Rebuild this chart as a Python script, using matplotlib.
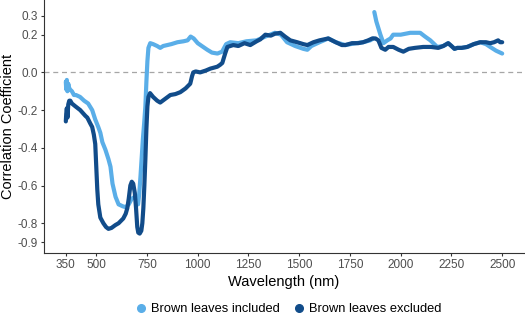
import numpy as np
import matplotlib
matplotlib.use("Agg")
import matplotlib.pyplot as plt
from matplotlib.lines import Line2D

plt.rcParams['font.family'] = ['Liberation Sans', 'DejaVu Sans']

# ---- data ----
wl_incl = [350, 352, 355, 358, 362, 366, 370, 380, 390, 400, 420, 440, 460, 480, 495,
           510, 520, 530, 545, 560, 570, 580, 595, 610, 630, 645, 660, 675, 690, 700,
           706, 712, 718, 724, 730, 736, 742, 747, 752, 757, 766, 780, 800, 815, 830,
           850, 870, 900, 930, 950, 965, 980, 1000, 1020, 1047, 1070, 1097, 1120, 1140,
           1160, 1200, 1240, 1290, 1333, 1380, 1410, 1440, 1480, 1520, 1540, 1560, 1600,
           1643, 1680, 1727, 1780, 1815, 1850, 1865, 1868, 1870, 1880, 1900, 1915, 1934,
           1950, 1963, 2000, 2047, 2096, 2120, 2146, 2180, 2210, 2234, 2250, 2265, 2279,
           2300, 2328, 2360, 2392, 2420, 2441, 2470, 2500]
r_incl = [-0.05, -0.09, -0.04, -0.10, -0.06, -0.08, -0.09, -0.10, -0.12, -0.12, -0.13,
          -0.15, -0.165, -0.20, -0.25, -0.29, -0.32, -0.37, -0.41, -0.46, -0.50, -0.59,
          -0.66, -0.70, -0.71, -0.715, -0.70, -0.67, -0.66, -0.68, -0.70, -0.64, -0.55,
          -0.45, -0.35, -0.27, -0.18, -0.05, 0.06, 0.13, 0.155, 0.15, 0.14, 0.13, 0.14,
          0.145, 0.15, 0.16, 0.165, 0.17, 0.19, 0.18, 0.155, 0.14, 0.12, 0.105, 0.10,
          0.11, 0.15, 0.16, 0.155, 0.165, 0.17, 0.19, 0.21, 0.20, 0.16, 0.14, 0.125,
          0.12, 0.14, 0.16, 0.18, 0.16, 0.145, 0.155, 0.16, 0.17, 0.18, np.nan, 0.32,
          0.27, 0.20, 0.155, 0.17, 0.18, 0.20, 0.20, 0.21, 0.21, 0.19, 0.17, 0.135,
          0.14, 0.155, 0.14, 0.125, 0.13, 0.13, 0.135, 0.15, 0.16, 0.15, 0.135, 0.115,
          0.10]

wl_excl = [350, 352, 355, 358, 362, 367, 372, 380, 397, 421, 446, 456, 470, 480, 488,
           495, 500, 505, 510, 520, 535, 548, 560, 575, 594, 610, 633, 645, 653, 660,
           668, 675, 682, 690, 696, 702, 707, 714, 722, 727, 732, 737, 742, 747, 752,
           757, 765, 780, 800, 815, 840, 865, 890, 914, 940, 963, 972, 978, 990, 1012,
           1040, 1062, 1096, 1110, 1121, 1135, 1146, 1175, 1200, 1230, 1259, 1290, 1308,
           1333, 1360, 1380, 1407, 1430, 1456, 1490, 1520, 1540, 1570, 1600, 1643, 1680,
           1710, 1727, 1760, 1790, 1815, 1840, 1860, 1876, 1890, 1905, 1924, 1940, 1963,
           1990, 2013, 2040, 2070, 2111, 2150, 2185, 2210, 2234, 2250, 2265, 2279, 2300,
           2328, 2360, 2392, 2420, 2441, 2460, 2480, 2490, 2500]
r_excl = [-0.26, -0.22, -0.19, -0.24, -0.17, -0.15, -0.15, -0.165, -0.18, -0.20, -0.23,
          -0.24, -0.27, -0.29, -0.33, -0.38, -0.50, -0.62, -0.70, -0.77, -0.80, -0.82,
          -0.83, -0.825, -0.81, -0.80, -0.775, -0.75, -0.72, -0.67, -0.60, -0.58,
          -0.59, -0.64, -0.72, -0.82, -0.85, -0.855, -0.84, -0.80, -0.72, -0.60, -0.46,
          -0.30, -0.18, -0.13, -0.11, -0.13, -0.15, -0.16, -0.14, -0.12, -0.115, -0.105,
          -0.085, -0.06, -0.02, 0.0, 0.005, 0.0, 0.01, 0.02, 0.03, 0.04, 0.05, 0.10,
          0.135, 0.145, 0.14, 0.155, 0.145, 0.165, 0.175, 0.20, 0.195, 0.205, 0.21,
          0.19, 0.17, 0.16, 0.15, 0.145, 0.16, 0.17, 0.18, 0.16, 0.145, 0.145, 0.155,
          0.155, 0.16, 0.17, 0.18, 0.18, 0.17, 0.13, 0.12, 0.135, 0.135, 0.12, 0.11,
          0.125, 0.13, 0.135, 0.135, 0.13, 0.14, 0.155, 0.14, 0.125, 0.13, 0.13, 0.135,
          0.15, 0.16, 0.16, 0.155, 0.16, 0.17, 0.16, 0.16]

labels = ["Brown leaves included", "Brown leaves excluded"]
colors = ["#5AAEE8", "#114C8A"]

x_ticks = [350, 500, 750, 1000, 1250, 1500, 1750, 2000, 2250, 2500]
y_ticks = [0.3, 0.2, 0.0, -0.2, -0.4, -0.6, -0.8, -0.9]
y_ticklabels = ["0.3", "0.2", "0.0", "-0.2", "-0.4", "-0.6", "-0.8", "-0.9"]

# ---- figure ----
W, H = 525, 317
fig = plt.figure(figsize=(W / 100, H / 100), dpi=100)
ax = fig.add_axes([44 / W, 1 - 253 / H, 480 / W, 253 / H])

ax.axhline(0, color="#A6A6A6", lw=0.9, ls=(0, (4, 3)), zorder=1)
ax.plot(wl_incl, r_incl, color=colors[0], lw=3.0, solid_capstyle="round",
        solid_joinstyle="round", zorder=2)
ax.plot(wl_excl, r_excl, color=colors[1], lw=3.0, solid_capstyle="round",
        solid_joinstyle="round", zorder=3)

ax.set_xlim(242.5, 2607.5)
ax.set_ylim(-0.958, 0.384)
ax.set_xticks(x_ticks)
ax.set_xticklabels([str(t) for t in x_ticks])
ax.set_yticks(y_ticks)
ax.set_yticklabels(y_ticklabels)

for s in ["top", "right"]:
    ax.spines[s].set_visible(False)
for s in ["left", "bottom"]:
    ax.spines[s].set_color("#333333")
    ax.spines[s].set_linewidth(0.8)
ax.tick_params(axis="both", length=2.5, width=0.8, color="#333333",
               labelcolor="#4D4D4D", labelsize=8.5, pad=2)

ax.set_xlabel("Wavelength (nm)", fontsize=10.5, color="black", labelpad=3)
ax.set_ylabel("Correlation Coefficient", fontsize=10.5, color="black")
ax.yaxis.set_label_coords((15 - 44) / 480, 0.5)

handles = [Line2D([], [], ls="none", marker="o", markersize=5.5, color=c) for c in colors]
fig.legend(handles, labels, loc="center", bbox_to_anchor=(288 / W, 1 - 309 / H),
           ncol=2, frameon=False, fontsize=9.3, handletextpad=0.3,
           columnspacing=1.0, handlelength=1.0)

fig.savefig("out.png", dpi=100)
